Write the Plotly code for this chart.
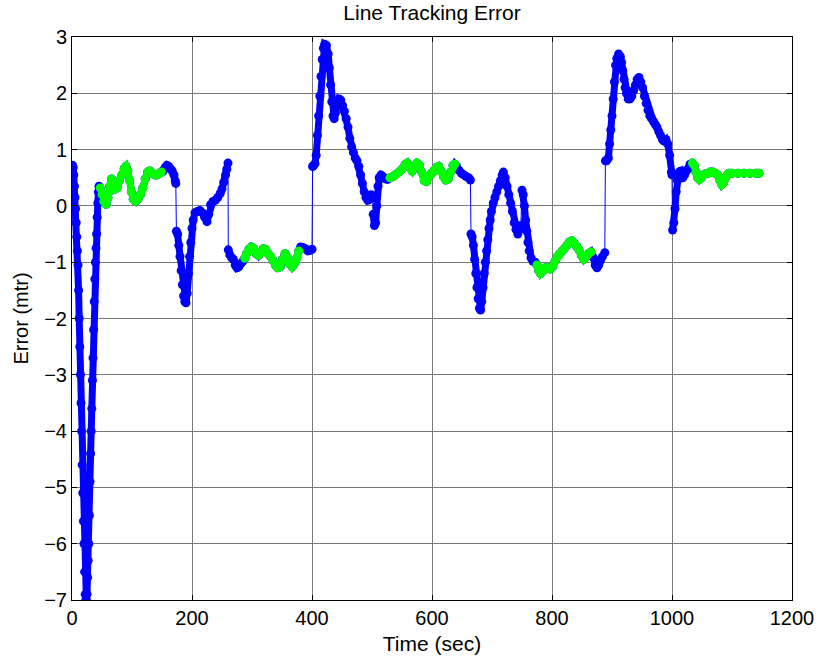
import plotly.graph_objects as go

# ---- data ----
time = [
    0, 1, 2, 3, 4, 5, 6, 7, 8, 9, 10, 11, 12, 13, 14, 15, 16, 17, 18, 19, 20, 21, 22, 23, 24,
    25, 26, 27, 28, 29, 30, 31, 32, 33, 34, 35, 36, 37, 38, 39, 40, 41, 42, 43, 44, 45,
    47, 50, 53, 57, 60, 63, 66, 69, 72, 75, 79, 83, 87, 90, 93, 96, 99, 102, 106, 110, 114,
    118, 122, 126, 130, 134, 138, 142, 146, 149,
    152, 155, 158, 161, 164, 167, 170, 172, 173,
    174, 176, 178, 180, 182, 184, 186, 188, 190, 192, 194, 196, 198, 200, 202, 205, 209, 213,
    217, 221, 225, 228, 231, 235, 239, 243, 247, 250, 253, 256, 258, 260,
    260.5, 263, 266, 269, 272, 275, 278, 281, 285,
    288, 291, 295, 299, 303, 307, 311, 315, 319, 323, 327, 331, 335, 339, 343, 347, 351, 355,
    359, 363, 367, 371, 375, 378,
    381, 385, 389, 393, 397, 400,
    401, 403, 405, 407, 409, 411, 413, 415, 417, 419, 421, 424, 427, 429, 431, 433, 435, 437,
    439, 442, 445, 448, 451, 454, 457, 460, 463, 466, 469, 472, 475, 478, 481, 484, 487, 490,
    493, 496, 499, 501,
    502, 504, 506, 508, 510, 512, 515, 518, 522, 526,
    530, 535, 540, 545, 550, 555, 559, 563, 567, 571, 575, 579, 583, 587, 591, 595, 599, 603,
    607, 611, 615, 619, 623, 627, 631, 635, 638,
    641, 645, 649, 653, 657, 661, 664,
    665, 667, 669, 671, 673, 675, 677, 679, 681, 683, 685, 687, 689, 691, 693, 695, 697, 699,
    702, 705, 708, 711, 714, 717, 719, 722, 725, 728, 731, 734, 737, 740, 743, 746, 748,
    750, 752, 754, 756, 758, 760, 762, 765, 768, 772,
    775, 778, 781, 785, 789, 793, 797, 801, 805, 809, 813, 817, 821, 825, 829, 833, 837, 841,
    845, 849, 853, 857, 861, 865,
    869, 872, 875, 878, 881, 884, 888,
    889, 891, 894, 896, 898, 900, 902, 904, 906, 908, 911, 914, 916, 918, 920, 922, 924, 927,
    930, 933, 936, 939, 942, 945, 948, 951, 954, 957, 960, 963, 966, 969, 972, 975, 978, 981,
    984, 987, 990, 993, 996, 999, 1000,
    1001, 1003, 1005, 1007, 1009, 1012, 1015, 1018, 1021, 1024, 1027, 1030,
    1034, 1037, 1040, 1043, 1046, 1049, 1052, 1056, 1060, 1064, 1068, 1072, 1076, 1080, 1083,
    1086, 1089, 1092, 1095, 1100, 1110, 1120, 1130, 1140, 1145,
]

error = [
    0.70, 0.72, 0.68, 0.55, 0.35, 0.15, -0.05, -0.30, -0.55, -0.80, -1.05, -1.50, -2.00, -2.50,
    -3.00, -3.50, -4.00, -4.60, -5.10, -5.60, -6.00, -6.50, -6.90, -7.00, -7.00,
    -6.90, -6.60, -6.30, -6.00, -5.50, -4.90, -4.40, -4.00, -3.60, -3.10, -2.70, -2.20, -1.70,
    -1.30, -1.00, -0.75, -0.50, -0.20, 0.05, 0.25, 0.35,
    0.32, 0.20, 0.08, 0.03, 0.15, 0.35, 0.48, 0.45, 0.30, 0.32, 0.45, 0.55, 0.66, 0.70, 0.62,
    0.45, 0.25, 0.12, 0.08, 0.12, 0.20, 0.32, 0.48, 0.60, 0.62, 0.58, 0.55, 0.55, 0.58, 0.60,
    0.62, 0.68, 0.72, 0.70, 0.66, 0.62, 0.55, 0.45, 0.40,
    -0.45, -0.50, -0.70, -0.90, -1.15, -1.40, -1.60, -1.70, -1.72, -1.55, -1.20, -0.90, -0.65,
    -0.40, -0.25, -0.12, -0.10, -0.08, -0.12, -0.20, -0.28, -0.15, 0.02, 0.08, 0.10, 0.15,
    0.22, 0.30, 0.42, 0.55, 0.65, 0.76,
    -0.78, -0.87, -0.92, -0.95, -1.05, -1.10, -1.08, -1.03, -0.98,
    -0.93, -0.85, -0.77, -0.73, -0.76, -0.85, -0.88, -0.82, -0.76, -0.78, -0.85, -0.90, -0.97,
    -1.05, -1.10, -1.08, -0.95, -0.85, -0.92, -1.03, -1.08, -1.02, -0.92, -0.80,
    -0.73, -0.74, -0.76, -0.80, -0.79, -0.77,
    0.70, 0.72, 0.75, 0.90, 1.25, 1.60, 1.95, 2.30, 2.60, 2.80, 2.87, 2.85, 2.70, 2.45, 2.15,
    1.85, 1.60, 1.55, 1.65, 1.85, 1.90, 1.88, 1.78, 1.68, 1.55, 1.40, 1.20, 1.05, 0.95, 0.85,
    0.80, 0.70, 0.55, 0.40, 0.25, 0.15, 0.10, 0.12, 0.20, 0.15,
    -0.15, -0.35, -0.30, 0.00, 0.35, 0.50, 0.55, 0.52, 0.48, 0.47,
    0.50, 0.52, 0.56, 0.60, 0.65, 0.73, 0.76, 0.68, 0.62, 0.70, 0.76, 0.72, 0.60, 0.45, 0.43,
    0.52, 0.58, 0.62, 0.68, 0.70, 0.62, 0.52, 0.46, 0.48, 0.60, 0.72, 0.74,
    0.70, 0.63, 0.58, 0.55, 0.52, 0.50, 0.46,
    -0.50, -0.55, -0.70, -0.95, -1.20, -1.45, -1.65, -1.82, -1.85, -1.70, -1.45, -1.20, -1.00,
    -0.80, -0.60, -0.40, -0.25, -0.10, 0.05, 0.15, 0.25, 0.35, 0.45, 0.55, 0.60, 0.50, 0.35,
    0.20, 0.05, -0.10, -0.30, -0.42, -0.50, -0.42, -0.35,
    0.28, 0.20, 0.00, -0.25, -0.45, -0.65, -0.80, -0.92, -0.98, -1.00,
    -1.05, -1.15, -1.20, -1.15, -1.10, -1.10, -1.12, -1.08, -0.98, -0.90, -0.85, -0.80, -0.75,
    -0.70, -0.64, -0.62, -0.66, -0.72, -0.78, -0.88, -0.95, -0.90, -0.85, -0.82,
    -0.92, -1.05, -1.10, -1.05, -0.96, -0.90, -0.83,
    0.80, 0.80, 0.85, 1.10, 1.35, 1.60, 1.90, 2.20, 2.50, 2.62, 2.70, 2.65, 2.55, 2.40, 2.25,
    2.10, 2.00, 1.90, 1.90, 1.95, 2.05, 2.15, 2.25, 2.28, 2.20, 2.10, 1.95, 1.82, 1.70, 1.60,
    1.55, 1.50, 1.45, 1.40, 1.32, 1.25, 1.18, 1.15, 1.18, 1.10, 0.90, 0.60, 0.55,
    -0.43, -0.30, -0.05, 0.25, 0.45, 0.60, 0.62, 0.50, 0.55, 0.62, 0.66, 0.74,
    0.76, 0.72, 0.60, 0.50, 0.47, 0.50, 0.55, 0.57, 0.58, 0.60, 0.60, 0.58, 0.55, 0.45, 0.38,
    0.42, 0.50, 0.55, 0.58, 0.58, 0.58, 0.58, 0.58, 0.58, 0.58,
]

# time spans drawn in green (overlay on the blue trace)
green_spans = [(47, 149), (288, 378), (530, 638), (775, 865), (1034, 1145)]
# samples where the signal jumps (joined only by the thin line)
jump_times = [174, 260.5, 401, 502, 665, 750, 889, 1001]

BLUE = "#0000ff"
GREEN = "#00ff00"

is_green = [any(a <= t <= b for a, b in green_spans) for t in time]

# thick blue trail, broken at jumps
bx, by = [], []
for t, e in zip(time, error):
    if t in jump_times:
        bx.append(None)
        by.append(None)
    bx.append(t)
    by.append(e)

# green overlay, broken between spans
gx, gy = [], []
prev = False
for t, e, g in zip(time, error, is_green):
    if g:
        gx.append(t)
        gy.append(e)
    elif prev:
        gx.append(None)
        gy.append(None)
    prev = g

fig = go.Figure()
fig.add_trace(go.Scatter(x=bx, y=by, mode="lines", line=dict(color=BLUE, width=7),
                         hoverinfo="skip", showlegend=False))
fig.add_trace(go.Scatter(x=time, y=error, mode="lines+markers",
                         line=dict(color=BLUE, width=1),
                         marker=dict(color=BLUE, size=9, line=dict(width=0)),
                         showlegend=False))
fig.add_trace(go.Scatter(x=gx, y=gy, mode="lines+markers",
                         line=dict(color=GREEN, width=7),
                         marker=dict(color=GREEN, size=9, line=dict(width=0)),
                         showlegend=False))

FONT = "Liberation Sans, Arial, sans-serif"
axis_common = dict(
    showgrid=True, gridcolor="#7a7a7a", gridwidth=1,
    showline=True, linecolor="black", linewidth=1, mirror="ticks",
    ticks="inside", ticklen=5, tickcolor="black", tickwidth=1,
    zeroline=False, automargin=False,
    tickfont=dict(family=FONT, size=20, color="black"),
)

fig.update_layout(
    width=819, height=666,
    margin=dict(l=72, r=27, t=37, b=66),
    paper_bgcolor="white", plot_bgcolor="white",
    title=dict(text="Line Tracking Error", x=0.5, xref="paper", xanchor="center",
               y=1 - 13 / 666, yref="container", yanchor="middle",
               font=dict(family=FONT, size=21, color="black")),
    xaxis=dict(range=[0, 1200], tick0=0, dtick=200,
               title=dict(text="Time (sec)", standoff=8,
                          font=dict(family=FONT, size=21, color="black")),
               **axis_common),
    yaxis=dict(range=[-7, 3], tick0=0, dtick=1,
               title=dict(text="Error (mtr)", standoff=10,
                          font=dict(family=FONT, size=20, color="black")),
               **axis_common),
)

fig.write_html("out.html", config={"displayModeBar": False},
               post_script="document.body.style.margin='0px';document.body.style.overflow='hidden';")
